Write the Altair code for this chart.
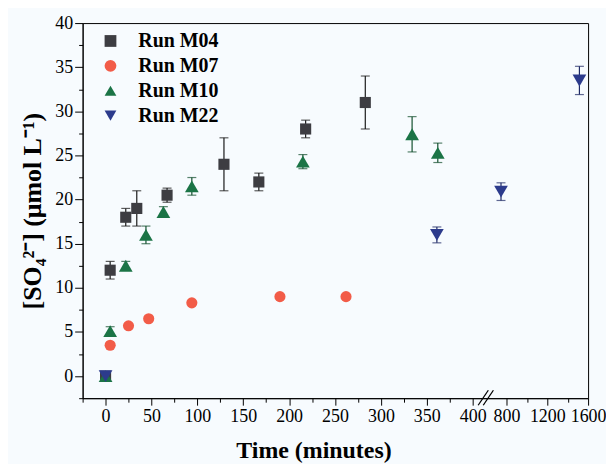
import altair as alt
import pandas as pd

runs = ["Run M04", "Run M07", "Run M10", "Run M22"]
colors = ["#3d3d42", "#f25c48", "#1b7446", "#2c3b8c"]
bar_colors = ["#1a1a1a", "#c04030", "#14502f", "#1f2a66"]
shapes = ["square", "circle", "triangle-up", "triangle-down"]

m04_t = [0, 5, 22, 34, 67, 129, 167, 218, 283]
m04_y = [0, 12.0, 18.0, 19.0, 20.5, 24.0, 22.0, 28.0, 31.0]
m04_e = [0, 1.0, 1.0, 2.0, 0.8, 3.0, 1.0, 1.0, 3.0]

m07_t = [5, 25, 47, 94, 190, 262]
m07_y = [3.5, 5.7, 6.5, 8.3, 9.0, 9.0]
m07_e = [0, 0, 0, 0, 0, 0]

m10_t = [0, 5, 22, 44, 63, 94, 215, 334, 362]
m10_y = [0, 5.1, 12.5, 16.0, 18.6, 21.5, 24.3, 27.4, 25.3]
m10_e = [0, 0.5, 0.5, 1.0, 0.6, 1.0, 0.8, 2.0, 1.1]

m22_t = [0, 361, 735, 1515]
m22_y = [0, 16.0, 20.9, 33.5]
m22_e = [0, 0.9, 1.0, 1.6]

x_major = [0, 50, 100, 150, 200, 250, 300, 350, 400, 800, 1200, 1600]
x_minor = [-25, 25, 75, 125, 175, 225, 275, 325, 375, 1000, 1400]
y_major = [0, 5, 10, 15, 20, 25, 30, 35, 40]
y_minor = [-2.5, 2.5, 7.5, 12.5, 17.5, 22.5, 27.5, 32.5, 37.5]

# axis break slashes (data units)
brk_x1 = [465, 525]
brk_x2 = [585, 645]
brk_y1 = [-3.3, -3.3]
brk_y2 = [-1.6, -1.6]

rows = []
for run, ts, ys, es in zip(runs, [m04_t, m07_t, m10_t, m22_t],
                           [m04_y, m07_y, m10_y, m22_y],
                           [m04_e, m07_e, m10_e, m22_e]):
    for t, y, e in zip(ts, ys, es):
        rows.append({"run": run, "t": t, "y": y, "lo": y - e, "hi": y + e, "e": e})
df = pd.DataFrame(rows)
err = df[df["e"] > 0]
brk = pd.DataFrame({"x1": brk_x1, "x2": brk_x2, "y1": brk_y1, "y2": brk_y2})

FONT = "Liberation Serif"
xscale = alt.Scale(domain=[-25, 400, 800, 1600], range=[0, 392, 426, 508], nice=False, zero=False)
yscale = alt.Scale(domain=[-2.5, 40], nice=False, zero=False)
stroke_scale = alt.Scale(domain=runs, range=bar_colors)

major_x = alt.Axis(values=x_major, format="d", orient="bottom", tickSize=7, tickColor="black",
                   domainColor="black", labelFont=FONT, labelFontSize=18, labelColor="black",
                   labelPadding=2, labelOverlap=False, labelFlush=False, grid=False,
                   title="Time (minutes)", titleFont=FONT, titleFontSize=24, titleFontWeight="bold",
                   titleColor="black", titlePadding=14, titleX=232)
minor_x = alt.Axis(values=x_minor, orient="bottom", tickSize=4, tickColor="black", labels=False,
                   domain=False, grid=False)
major_y = alt.Axis(values=y_major, orient="left", tickSize=8, tickColor="black", domainColor="black",
                   labelFont=FONT, labelFontSize=18, labelColor="black", labelPadding=2, grid=False,
                   title="[SO₄²⁻] (μmol L⁻¹)", titleFont=FONT, titleFontSize=26, titleFontWeight="bold",
                   titleColor="black", titlePadding=9)
minor_y = alt.Axis(values=y_minor, orient="left", tickSize=4, tickColor="black", labels=False,
                   domain=False, grid=False)

rules = alt.Chart(err).mark_rule(strokeWidth=1.2).encode(
    x=alt.X("t:Q", scale=xscale, axis=minor_x, title=None),
    y=alt.Y("lo:Q", scale=yscale, axis=minor_y, title=None),
    y2="hi:Q",
    stroke=alt.Stroke("run:N", scale=stroke_scale, legend=None),
)
caps_lo = alt.Chart(err).mark_point(shape="stroke", size=81, strokeWidth=1.2).encode(
    x=alt.X("t:Q", scale=xscale, axis=None),
    y=alt.Y("lo:Q", scale=yscale, axis=None),
    stroke=alt.Stroke("run:N", scale=stroke_scale, legend=None),
)
caps_hi = alt.Chart(err).mark_point(shape="stroke", size=81, strokeWidth=1.2).encode(
    x=alt.X("t:Q", scale=xscale, axis=None),
    y=alt.Y("hi:Q", scale=yscale, axis=None),
    stroke=alt.Stroke("run:N", scale=stroke_scale, legend=None),
)

legend = alt.Legend(title=None, orient="none", legendX=18, legendY=8, labelFont=FONT,
                    labelFontSize=20, labelFontWeight="bold", labelColor="black",
                    symbolSize=140, rowPadding=5, labelOffset=18, padding=0, symbolStrokeWidth=0)
points = alt.Chart(df).mark_point(filled=True, opacity=1).encode(
    x=alt.X("t:Q", scale=xscale, axis=major_x),
    y=alt.Y("y:Q", scale=yscale, axis=major_y),
    color=alt.Color("run:N", scale=alt.Scale(domain=runs, range=colors), legend=legend),
    shape=alt.Shape("run:N", scale=alt.Scale(domain=runs, range=shapes), legend=legend),
    size=alt.condition("datum.run == 'Run M10' || datum.run == 'Run M22'",
                       alt.value(190), alt.value(125)),
)

breaks = alt.Chart(brk).mark_rule(color="black", strokeWidth=1.3).encode(
    x=alt.X("x1:Q", scale=xscale, axis=None),
    x2="x2:Q",
    y=alt.Y("y1:Q", scale=yscale, axis=None),
    y2="y2:Q",
)

chart = alt.layer(rules, caps_lo, caps_hi, points, breaks).resolve_axis(
    x="independent", y="independent"
).resolve_scale(
    color="independent", shape="independent"
).properties(
    width=508, height=377,
    padding={"left": 12, "top": 5, "right": 0, "bottom": 0},
    background="#f7fbfe",
).configure_view(stroke="black", strokeWidth=1)

chart.save("out.html", embed_options={"renderer": "svg", "actions": False})
